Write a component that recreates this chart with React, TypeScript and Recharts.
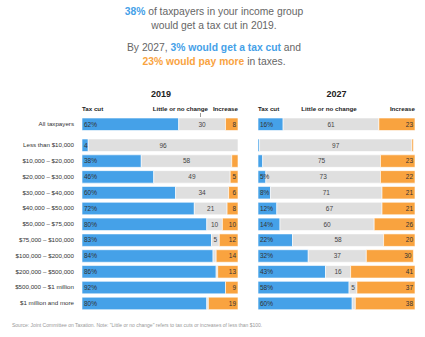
import React from "react";
import { BarChart, Bar, XAxis, YAxis, LabelList } from "recharts";

const groups = [
  "All taxpayers",
  "Less than $10,000",
  "$10,000 – $20,000",
  "$20,000 – $30,000",
  "$30,000 – $40,000",
  "$40,000 – $50,000",
  "$50,000 – $75,000",
  "$75,000 – $100,000",
  "$100,000 – $200,000",
  "$200,000 – $500,000",
  "$500,000 – $1 million",
  "$1 million and more",
];

const cut2019 = [62, 4, 38, 46, 60, 72, 80, 83, 84, 86, 92, 80];
const same2019 = [30, 96, 58, 49, 34, 21, 10, 5, 2, 1, 0, 1];
const up2019 = [8, 0, 4, 5, 6, 8, 10, 12, 14, 13, 9, 19];

const cut2027 = [16, 1, 3, 5, 8, 12, 14, 22, 32, 43, 58, 60];
const same2027 = [61, 97, 75, 73, 71, 67, 60, 58, 37, 16, 5, 2];
const up2027 = [23, 1, 23, 22, 21, 21, 26, 20, 30, 41, 37, 38];

const BLUE = "#45a1e8";
const GRAY = "#dfdfdf";
const ORANGE = "#f9a33f";
const FONT = "'Liberation Sans', Arial, sans-serif";

const rows2019 = groups.map((g, i) => ({ group: g, cut: cut2019[i], same: same2019[i], up: up2019[i] }));
const rows2027 = groups.map((g, i) => ({ group: g, cut: cut2027[i], same: same2027[i], up: up2027[i] }));

const cutLabel = (p: any) => {
  const { x, y, height, value } = p;
  if (value < 4) return null;
  return (
    <text x={x + 2} y={y + height / 2} dy={2.3} fontSize={6.5} fill="#333" fontFamily={FONT}>
      {value >= 5 ? `${value}%` : value}
    </text>
  );
};

const sameLabel = (p: any) => {
  const { x, y, width, height, value } = p;
  if (value < 4) return null;
  return (
    <text x={x + width / 2} y={y + height / 2} dy={2.3} fontSize={6.5} fill="#444" textAnchor="middle" fontFamily={FONT}>
      {value}
    </text>
  );
};

const upLabel = (p: any) => {
  const { x, y, width, height, value } = p;
  if (value < 5) return null;
  return (
    <text x={x + width - 2} y={y + height / 2} dy={2.3} fontSize={6.5} fill="#333" textAnchor="end" fontFamily={FONT}>
      {value}
    </text>
  );
};

const GroupTick = (p: any) => {
  const { x, y, payload } = p;
  return (
    <text x={x} y={y} dy={2.2} fontSize={6.2} fill="#333" textAnchor="end" fontFamily={FONT}>
      {payload.value}
    </text>
  );
};

function Panel({ data, withAxis, height }: { data: any[]; withAxis: boolean; height: number }) {
  return (
    <BarChart
      width={withAxis ? 240 : 161}
      height={height}
      data={data}
      layout="vertical"
      margin={{ top: 0, right: 2, bottom: 0, left: withAxis ? 0 : 2 }}
    >
      <XAxis type="number" domain={[0, 100]} allowDataOverflow hide />
      <YAxis
        type="category"
        dataKey="group"
        width={withAxis ? 82 : 0}
        hide={!withAxis}
        axisLine={false}
        tickLine={false}
        interval={0}
        tick={<GroupTick />}
      />
      <Bar dataKey="cut" stackId="a" fill={BLUE} stroke="#fff" strokeWidth={0.6} barSize={12.5} isAnimationActive={false}>
        <LabelList dataKey="cut" content={cutLabel} />
      </Bar>
      <Bar dataKey="same" stackId="a" fill={GRAY} stroke="#fff" strokeWidth={0.6} barSize={12.5} isAnimationActive={false}>
        <LabelList dataKey="same" content={sameLabel} />
      </Bar>
      <Bar dataKey="up" stackId="a" fill={ORANGE} stroke="#fff" strokeWidth={0.6} barSize={12.5} isAnimationActive={false}>
        <LabelList dataKey="up" content={upLabel} />
      </Bar>
    </BarChart>
  );
}

const abs = (top: number, left: number, extra: React.CSSProperties = {}): React.CSSProperties => ({
  position: "absolute",
  top,
  left,
  ...extra,
});

const headStyle: React.CSSProperties = { fontSize: 6.2, fontWeight: 700, color: "#222", whiteSpace: "nowrap", lineHeight: "8px" };

export default function App() {
  return (
    <div style={{ position: "absolute", top: 0, left: 0, width: 425, height: 337, background: "#fff", fontFamily: FONT }}>
      <div style={abs(5, 0, { width: 428, textAlign: "center", fontSize: 10.3, lineHeight: "14px", color: "#666" })}>
        <span style={{ color: BLUE, fontWeight: 700 }}>38%</span> of taxpayers in your income group
        <br />
        would get a tax cut in 2019.
      </div>
      <div style={abs(41, 0, { width: 428, textAlign: "center", fontSize: 10.3, lineHeight: "14px", color: "#666" })}>
        By 2027, <span style={{ color: BLUE, fontWeight: 700 }}>3% would get a tax cut</span> and
        <br />
        <span style={{ color: ORANGE, fontWeight: 700 }}>23% would pay more</span> in taxes.
      </div>

      <div style={abs(89, 82, { width: 158, textAlign: "center", fontSize: 9, fontWeight: 700, color: "#222" })}>2019</div>
      <div style={abs(89, 258, { width: 157, textAlign: "center", fontSize: 9, fontWeight: 700, color: "#222" })}>2027</div>

      <div style={abs(105, 82, headStyle)}>Tax cut</div>
      <div style={abs(105, 150, { ...headStyle, width: 58, textAlign: "right" })}>Little or no change</div>
      <div style={abs(105, 188, { ...headStyle, width: 50, textAlign: "right" })}>Increase</div>
      <div style={abs(113, 200, { width: 1, height: 4, background: "#999" })} />

      <div style={abs(105, 258, headStyle)}>Tax cut</div>
      <div style={abs(105, 296, { ...headStyle, width: 66, textAlign: "center" })}>Little or no change</div>
      <div style={abs(105, 365, { ...headStyle, width: 50, textAlign: "right" })}>Increase</div>

      <div style={abs(116, 0)}>
        <Panel data={rows2019.slice(0, 1)} withAxis height={16} />
      </div>
      <div style={abs(137, 0)}>
        <Panel data={rows2019.slice(1)} withAxis height={174} />
      </div>
      <div style={abs(116, 256)}>
        <Panel data={rows2027.slice(0, 1)} withAxis={false} height={16} />
      </div>
      <div style={abs(137, 256)}>
        <Panel data={rows2027.slice(1)} withAxis={false} height={174} />
      </div>

      <div style={abs(322, 12, { fontSize: 5, color: "#999", whiteSpace: "nowrap" })}>
        Source: Joint Committee on Taxation. Note: "Little or no change" refers to tax cuts or increases of less than $100.
      </div>
    </div>
  );
}
